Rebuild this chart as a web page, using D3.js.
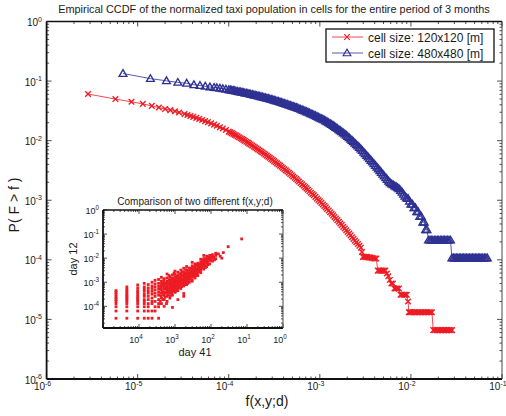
<!DOCTYPE html>
<html>
<head>
<meta charset="utf-8">
<script src="https://cdn.jsdelivr.net/npm/d3@7"></script>
<style>
body{margin:0;background:#fff;}
text{font-family:"Liberation Sans",Arial,sans-serif;fill:#1a1a1a;}
</style>
</head>
<body>
<div id="chart"></div>
<script>
// CCDF, cell size 120x120 : [f, P(F>f)]
var redCcdf=[[2.85e-6,0.0607],[5.7e-6,0.0499],[8.55e-6,0.0449],[1.14e-5,0.0414],[1.43e-5,0.0383],[1.71e-5,0.0360],[2.0e-5,0.0340],[2.28e-5,0.0325],[2.57e-5,0.0311],[2.85e-5,0.0297],
[3.27e-5,0.0280],[3.52e-5,0.0270],[3.79e-5,0.0260],[4.08e-5,0.0251],[4.4e-5,0.0241],[4.74e-5,0.0232],[5.1e-5,0.0222],[5.5e-5,0.0213],[5.9e-5,0.0205],[6.4e-5,0.0195],[6.9e-5,0.0186],[7.4e-5,0.0178],[8.0e-5,0.0168],[8.6e-5,0.0160],[9.3e-5,0.0151],
[1.0e-4,0.0142],[1.04e-4,0.0138],[1.08e-4,0.0134],[1.12e-4,0.0130],[1.16e-4,0.0126],[1.20e-4,0.0122],[1.25e-4,0.0118],[1.30e-4,0.0114],[1.35e-4,0.0110],[1.40e-4,0.01065],[1.45e-4,0.0103],[1.50e-4,0.00994],[1.56e-4,0.00959],[1.62e-4,0.00926],[1.68e-4,0.00893],[1.74e-4,0.00860],[1.81e-4,0.00828],[1.88e-4,0.00798],[1.95e-4,0.00768],[2.02e-4,0.00740],
[2.1e-4,0.00712],[2.18e-4,0.00685],[2.26e-4,0.00658],[2.34e-4,0.00633],[2.43e-4,0.00608],[2.52e-4,0.00584],[2.62e-4,0.00561],[2.72e-4,0.00538],[2.82e-4,0.00516],[2.93e-4,0.00494],[3.04e-4,0.00473],[3.15e-4,0.00453],[3.27e-4,0.00434],[3.39e-4,0.00416],[3.52e-4,0.00398],[3.65e-4,0.00381],[3.79e-4,0.00364],[3.93e-4,0.00348],[4.08e-4,0.00332],[4.24e-4,0.00317],[4.4e-4,0.00303],[4.57e-4,0.00289],[4.74e-4,0.00275],[4.92e-4,0.00262],
[5.1e-4,0.00250],[5.3e-4,0.00238],[5.5e-4,0.00227],[5.7e-4,0.00216],[5.9e-4,0.00206],[6.15e-4,0.00195],[6.4e-4,0.00185],[6.65e-4,0.00175],[6.9e-4,0.00166],[7.15e-4,0.00158],[7.4e-4,0.00150],[7.7e-4,0.00142],[8.0e-4,0.00134],[8.3e-4,0.00127],[8.6e-4,0.00121],[8.95e-4,0.00114],[9.3e-4,0.00107],[9.65e-4,0.00101],
[1.0e-3,9.57e-4],[1.04e-3,9.02e-4],[1.08e-3,8.50e-4],[1.12e-3,8.03e-4],[1.16e-3,7.59e-4],[1.20e-3,7.14e-4],[1.25e-3,6.71e-4],[1.30e-3,6.30e-4],[1.35e-3,5.92e-4],[1.40e-3,5.57e-4],[1.45e-3,5.25e-4],[1.50e-3,4.94e-4],[1.56e-3,4.64e-4],[1.62e-3,4.35e-4],[1.68e-3,4.08e-4],[1.74e-3,3.82e-4],[1.81e-3,3.58e-4],[1.88e-3,3.35e-4],[1.95e-3,3.14e-4],[2.02e-3,2.94e-4],
[2.1e-3,2.75e-4],[2.18e-3,2.57e-4],[2.26e-3,2.40e-4],[2.34e-3,2.25e-4],[2.43e-3,2.10e-4],[2.52e-3,1.97e-4],[2.62e-3,1.84e-4],[2.72e-3,1.72e-4],[2.82e-3,1.60e-4],[2.9e-3,1.35e-4],
[2.97e-3,1.12e-4],[3.08e-3,1.12e-4],[3.2e-3,1.12e-4],[3.32e-3,1.11e-4],[3.45e-3,1.10e-4],[3.58e-3,1.09e-4],[3.72e-3,1.08e-4],[3.87e-3,1.06e-4],[4.02e-3,1.05e-4],[4.17e-3,1.05e-4],
[4.33e-3,6.6e-5],[4.5e-3,6.6e-5],[4.68e-3,6.6e-5],[4.86e-3,6.6e-5],[5.05e-3,6.6e-5],[5.24e-3,6.6e-5],[5.44e-3,5.9e-5],[5.65e-3,5.3e-5],[5.87e-3,4.6e-5],[6.1e-3,4.0e-5],[6.34e-3,4.0e-5],
[6.6e-3,3.3e-5],[6.84e-3,3.3e-5],[7.1e-3,3.3e-5],[7.38e-3,3.3e-5],[7.7e-3,2.6e-5],[8.0e-3,2.6e-5],[8.4e-3,2.6e-5],[8.7e-3,2.6e-5],[9.0e-3,2.6e-5],[9.3e-3,2.0e-5],
[9.5e-3,1.32e-5],[9.75e-3,1.32e-5],[1.0e-2,1.32e-5],[1.04e-2,1.32e-5],[1.08e-2,1.32e-5],[1.12e-2,1.32e-5],[1.16e-2,1.32e-5],[1.21e-2,1.32e-5],[1.26e-2,1.32e-5],[1.31e-2,1.32e-5],[1.36e-2,1.32e-5],[1.41e-2,1.32e-5],[1.46e-2,1.32e-5],[1.52e-2,1.32e-5],[1.58e-2,1.32e-5],[1.64e-2,1.32e-5],[1.70e-2,1.32e-5],
[1.76e-2,6.6e-6],[1.84e-2,6.6e-6],[1.93e-2,6.6e-6],[2.0e-2,6.6e-6],[2.08e-2,6.6e-6],[2.16e-2,6.6e-6],[2.25e-2,6.6e-6],[2.34e-2,6.6e-6],[2.43e-2,6.6e-6],[2.52e-2,6.6e-6],[2.62e-2,6.6e-6],[2.72e-2,6.6e-6],[2.83e-2,6.6e-6]];

// CCDF, cell size 480x480 : [f, P(F>f)]
var blueCcdf=[[6.9e-6,0.134],[1.38e-5,0.110],[2.07e-5,0.101],[2.76e-5,0.0951],[3.45e-5,0.0916],[4.14e-5,0.0867],[4.83e-5,0.0842],[5.52e-5,0.0817],[6.21e-5,0.0796],[6.9e-5,0.0782],
[7.4e-5,0.0772],[8.0e-5,0.0757],[8.6e-5,0.0744],[9.3e-5,0.0729],
[1.0e-4,0.0715],[1.04e-4,0.0708],[1.08e-4,0.0700],[1.12e-4,0.0693],[1.16e-4,0.0686],[1.20e-4,0.0678],[1.25e-4,0.0670],[1.30e-4,0.0662],[1.35e-4,0.0655],[1.40e-4,0.0648],[1.45e-4,0.0640],[1.50e-4,0.0632],[1.56e-4,0.0625],[1.62e-4,0.0617],[1.68e-4,0.0610],[1.74e-4,0.0602],[1.81e-4,0.0594],[1.88e-4,0.0586],[1.95e-4,0.0578],[2.02e-4,0.0570],
[2.1e-4,0.0563],[2.18e-4,0.0555],[2.26e-4,0.0547],[2.34e-4,0.0540],[2.43e-4,0.0532],[2.52e-4,0.0524],[2.62e-4,0.0516],[2.72e-4,0.0508],[2.82e-4,0.0501],[2.93e-4,0.0493],[3.04e-4,0.0485],[3.15e-4,0.0477],[3.27e-4,0.0469],[3.39e-4,0.0461],[3.52e-4,0.0453],[3.65e-4,0.0445],[3.79e-4,0.0437],[3.93e-4,0.0430],[4.08e-4,0.0422],[4.24e-4,0.0414],[4.4e-4,0.0406],[4.57e-4,0.0398],[4.74e-4,0.0390],[4.92e-4,0.0382],
[5.1e-4,0.0375],[5.3e-4,0.0367],[5.5e-4,0.0359],[5.7e-4,0.0352],[5.9e-4,0.0345],[6.15e-4,0.0336],[6.4e-4,0.0328],[6.65e-4,0.0320],[6.9e-4,0.0313],[7.15e-4,0.0306],[7.4e-4,0.0299],[7.7e-4,0.0291],[8.0e-4,0.0283],[8.3e-4,0.0276],[8.6e-4,0.0270],[8.95e-4,0.0262],[9.3e-4,0.0255],[9.65e-4,0.0248],
[1.0e-3,0.0241],[1.04e-3,0.0234],[1.08e-3,0.0228],[1.12e-3,0.0221],[1.16e-3,0.0214],[1.20e-3,0.0207],[1.25e-3,0.0200],[1.30e-3,0.0193],[1.35e-3,0.0186],[1.40e-3,0.0179],[1.45e-3,0.0173],[1.50e-3,0.0166],[1.56e-3,0.0160],[1.62e-3,0.0153],[1.68e-3,0.0147],[1.74e-3,0.0141],[1.81e-3,0.0135],[1.88e-3,0.0129],[1.95e-3,0.0123],[2.02e-3,0.0117],
[2.1e-3,0.0112],[2.18e-3,0.0106],[2.26e-3,0.0101],[2.34e-3,0.00956],[2.43e-3,0.00906],[2.52e-3,0.00857],[2.62e-3,0.00811],[2.72e-3,0.00766],[2.82e-3,0.00723],[2.93e-3,0.00680],[3.04e-3,0.00639],[3.15e-3,0.00600],[3.27e-3,0.00564],[3.39e-3,0.00529],[3.52e-3,0.00496],[3.65e-3,0.00465],[3.79e-3,0.00436],[3.93e-3,0.00409],[4.08e-3,0.00383],[4.24e-3,0.00358],[4.4e-3,0.00335],[4.57e-3,0.00313],[4.74e-3,0.00292],[4.92e-3,0.00272],
[5.1e-3,0.00254],[5.3e-3,0.00238],[5.5e-3,0.00222],[5.7e-3,0.00209],[5.9e-3,0.00196],[6.15e-3,0.00188],[6.4e-3,0.00181],[6.65e-3,0.00174],[6.9e-3,0.00168],[7.15e-3,0.00162],[7.4e-3,0.00156],[7.7e-3,0.00146],[8.0e-3,0.00136],[8.3e-3,0.00126],[8.6e-3,0.00117],[8.95e-3,0.00109],[9.3e-3,0.00107],[9.65e-3,9.63e-4],
[1.0e-2,8.56e-4],[1.04e-2,8.56e-4],[1.08e-2,7.49e-4],[1.12e-2,7.49e-4],[1.16e-2,6.42e-4],[1.20e-2,6.42e-4],[1.25e-2,5.35e-4],[1.30e-2,5.35e-4],[1.35e-2,4.28e-4],[1.40e-2,4.28e-4],[1.45e-2,3.21e-4],[1.50e-2,3.21e-4],
[1.56e-2,2.14e-4],[1.62e-2,2.14e-4],[1.68e-2,2.14e-4],[1.74e-2,2.14e-4],[1.81e-2,2.14e-4],[1.88e-2,2.14e-4],[1.95e-2,2.14e-4],[2.02e-2,2.14e-4],[2.1e-2,2.14e-4],[2.18e-2,2.14e-4],[2.26e-2,2.14e-4],[2.34e-2,2.14e-4],[2.43e-2,2.14e-4],[2.52e-2,2.14e-4],[2.62e-2,2.14e-4],[2.72e-2,2.14e-4],
[2.82e-2,1.07e-4],[2.93e-2,1.07e-4],[3.04e-2,1.07e-4],[3.15e-2,1.07e-4],[3.27e-2,1.07e-4],[3.39e-2,1.07e-4],[3.52e-2,1.07e-4],[3.65e-2,1.07e-4],[3.79e-2,1.07e-4],[3.93e-2,1.07e-4],[4.08e-2,1.07e-4],[4.24e-2,1.07e-4],[4.4e-2,1.07e-4],[4.57e-2,1.07e-4],[4.74e-2,1.07e-4],[4.92e-2,1.07e-4],[5.1e-2,1.07e-4],[5.3e-2,1.07e-4],[5.5e-2,1.07e-4],[5.7e-2,1.07e-4],[5.9e-2,1.07e-4],[6.15e-2,1.07e-4],[6.4e-2,1.07e-4],[6.65e-2,1.07e-4],[6.9e-2,1.07e-4]];

// inset scatter: day 41 value (x) with the day 12 values (y) seen at it
var insetColumns=[
{x:2.3e-5,y:[3.2e-5,6.4e-5,9.6e-5,1.3e-4,1.6e-4,1.9e-4,2.2e-4,2.6e-4,3.2e-4,3.8e-4,4.5e-4]},
{x:4.6e-5,y:[3.2e-5,6.4e-5,9.6e-5,1.3e-4,1.6e-4,1.9e-4,2.2e-4,2.6e-4,2.9e-4,3.5e-4,4.2e-4,5.1e-4,6.4e-4]},
{x:9.2e-5,y:[3.2e-5,6.4e-5,9.6e-5,1.3e-4,1.6e-4,1.9e-4,2.2e-4,2.6e-4,3.2e-4,3.8e-4,4.5e-4,5.8e-4,7.7e-4]},
{x:1.4e-4,y:[3.2e-5,6.4e-5,9.6e-5,1.3e-4,1.6e-4,1.9e-4,2.6e-4,3.2e-4,4.2e-4,5.1e-4,6.4e-4,9.0e-4]},
{x:1.8e-4,y:[3.2e-5,6.4e-5,9.6e-5,1.3e-4,1.9e-4,2.6e-4,3.5e-4,4.5e-4,5.8e-4,8.0e-4]},
{x:2.3e-4,y:[3.2e-5,6.4e-5,1.3e-4,1.6e-4,2.2e-4,3.2e-4,4.2e-4,5.5e-4,7.0e-4,1.0e-3]},
{x:2.8e-4,y:[6.4e-5,9.6e-5,1.6e-4,2.6e-4,3.5e-4,4.8e-4,6.4e-4,8.5e-4,1.2e-3]},
{x:3.5e-4,y:[3.2e-5,9.6e-5,1.3e-4,1.9e-4,2.9e-4,3.8e-4,5.1e-4,6.7e-4,9.0e-4,1.3e-3]},
{x:4.2e-4,y:[1.3e-4,2.2e-4,3.5e-4,4.8e-4,6.1e-4,8.0e-4,1.1e-3,1.6e-3]},
{x:5.0e-4,y:[1.0e-4,1.9e-4,2.9e-4,4.0e-4,5.5e-4,7.4e-4,9.6e-4,1.4e-3]},
{x:6.0e-4,y:[1.6e-4,2.6e-4,3.8e-4,5.1e-4,6.7e-4,8.6e-4,1.1e-3,1.5e-3,2.2e-3]},
{x:7.2e-4,y:[2.2e-4,3.5e-4,4.5e-4,6.1e-4,7.7e-4,9.6e-4,1.2e-3,1.7e-3]},
{x:8.5e-4,y:[9.0e-5,2.9e-4,4.2e-4,5.8e-4,7.4e-4,9.3e-4,1.2e-3,1.5e-3,2.0e-3]},
{x:1.0e-3,y:[3.8e-4,5.1e-4,6.7e-4,8.3e-4,1.0e-3,1.3e-3,1.6e-3,2.1e-3,2.9e-3]},
{x:1.2e-3,y:[1.9e-4,4.5e-4,6.4e-4,8.0e-4,9.9e-4,1.2e-3,1.5e-3,1.9e-3,2.6e-3]},
{x:1.45e-3,y:[5.5e-4,7.7e-4,9.6e-4,1.2e-3,1.4e-3,1.8e-3,2.3e-3,3.2e-3]},
{x:1.75e-3,y:[2.6e-4,3.4e-4,7.0e-4,9.0e-4,1.1e-3,1.4e-3,1.7e-3,2.1e-3,2.7e-3,3.8e-3]},
{x:2.1e-3,y:[8.0e-4,1.1e-3,1.3e-3,1.6e-3,2.0e-3,2.5e-3,3.2e-3,4.5e-3]},
{x:2.5e-3,y:[1.0e-3,1.3e-3,1.6e-3,2.0e-3,2.4e-3,3.0e-3,3.9e-3]},
{x:3.0e-3,y:[1.2e-3,1.6e-3,2.0e-3,2.5e-3,3.0e-3,3.7e-3,4.8e-3,6.7e-3]},
{x:3.6e-3,y:[1.5e-3,2.0e-3,2.6e-3,3.2e-3,3.8e-3,4.6e-3,5.8e-3]},
{x:4.3e-3,y:[1.9e-3,2.6e-3,3.4e-3,4.2e-3,5.0e-3,6.2e-3]},
{x:5.2e-3,y:[2.5e-3,3.4e-3,4.4e-3,5.5e-3,7.0e-3,9.0e-3]},
{x:6.3e-3,y:[3.5e-3,4.6e-3,5.8e-3,7.3e-3,9.6e-3,1.3e-2]},
{x:7.6e-3,y:[4.5e-3,6.0e-3,7.8e-3,9.8e-3,1.2e-2]},
{x:9.2e-3,y:[5.8e-3,8.0e-3,1.0e-2,1.3e-2]},
{x:1.1e-2,y:[7.5e-3,1.0e-2,1.4e-2]},
{x:1.35e-2,y:[9.5e-3,1.3e-2,1.6e-2]}];
var insetCloud=[[3.9e-4,1.6e-4],[4.0e-4,6.0e-4],[4.1e-4,2.7e-4],[4.3e-4,9.0e-4],[4.4e-4,4.1e-4],[4.6e-4,1.9e-4],[4.7e-4,7.2e-4],[4.8e-4,3.1e-4],[4.9e-4,1.2e-3],[5.2e-4,5.3e-4],[5.3e-4,2.4e-4],[5.4e-4,8.8e-4],[5.6e-4,3.6e-4],[5.7e-4,6.5e-4],[5.8e-4,1.3e-4],
[6.1e-4,4.6e-4],[6.2e-4,1.0e-3],[6.3e-4,3.0e-4],[6.5e-4,7.8e-4],[6.6e-4,5.6e-4],[6.8e-4,1.9e-3],[6.9e-4,4.0e-4],[7.0e-4,1.3e-3],[7.3e-4,2.7e-4],[7.5e-4,6.9e-4],[7.6e-4,1.0e-3],[7.8e-4,5.0e-4],[8.0e-4,8.4e-4],[8.1e-4,3.6e-4],[8.3e-4,1.4e-3],
[8.7e-4,6.3e-4],[8.9e-4,1.1e-3],[9.0e-4,4.6e-4],[9.2e-4,7.9e-4],[9.4e-4,2.4e-3],[9.6e-4,5.7e-4],[9.8e-4,1.2e-3],[1.03e-3,9.1e-4],[1.05e-3,4.2e-4],[1.07e-3,1.5e-3],[1.09e-3,7.1e-4],[1.12e-3,1.1e-3],[1.14e-3,5.4e-4],[1.17e-3,1.8e-3],
[1.22e-3,8.6e-4],[1.25e-3,1.3e-3],[1.28e-3,6.0e-4],[1.31e-3,1.0e-3],[1.34e-3,2.2e-3],[1.38e-3,7.5e-4],[1.41e-3,1.6e-3],[1.48e-3,1.1e-3],[1.52e-3,6.6e-4],[1.55e-3,1.3e-3],[1.6e-3,2.7e-3],[1.63e-3,8.8e-4],[1.67e-3,1.9e-3],[1.71e-3,1.2e-3],
[1.8e-3,1.6e-3],[1.84e-3,8.0e-4],[1.88e-3,2.3e-3],[1.93e-3,1.0e-3],[1.97e-3,1.4e-3],[2.0e-3,3.3e-3],[2.05e-3,1.8e-3],[2.15e-3,1.2e-3],[2.2e-3,2.1e-3],[2.25e-3,9.0e-4],[2.3e-3,1.5e-3],[2.35e-3,2.8e-3],[2.4e-3,1.9e-3],
[2.6e-3,1.4e-3],[2.65e-3,2.2e-3],[2.7e-3,3.6e-3],[2.8e-3,1.7e-3],[2.85e-3,2.6e-3],[2.95e-3,1.1e-3],[3.1e-3,2.1e-3],[3.2e-3,3.2e-3],[3.3e-3,1.8e-3],[3.4e-3,4.2e-3],[3.45e-3,2.4e-3],[3.7e-3,2.9e-3],[3.8e-3,1.9e-3],[3.9e-3,3.5e-3],[4.0e-3,5.3e-3],[4.1e-3,2.3e-3],
[4.5e-3,3.0e-3],[4.6e-3,4.4e-3],[4.7e-3,3.6e-3],[4.9e-3,5.6e-3],[5.0e-3,2.8e-3],[5.5e-3,4.0e-3],[5.6e-3,6.2e-3],[5.8e-3,4.9e-3],[6.0e-3,8.0e-3],[6.6e-3,5.2e-3],[6.8e-3,6.6e-3],[7.0e-3,4.1e-3],[7.2e-3,8.5e-3],[8.0e-3,7.0e-3],[8.3e-3,5.4e-3],[8.6e-3,9.0e-3],[8.8e-3,1.1e-2],[1.0e-2,8.6e-3],[1.05e-2,1.2e-2],[1.2e-2,1.1e-2],[1.25e-2,8.5e-3]];
var insetOutliers=[[1.6e-2,1.5e-2],[1.8e-2,1.2e-2],[2.0e-2,1.0e-2],[2.2e-2,1.7e-2],[3.0e-2,3.0e-2],[7.1e-2,6.3e-2]];

// tick labels
var mainXExp=[-6,-5,-4,-3,-2,-1];
var mainYExp=[-6,-5,-4,-3,-2,-1,0];
var insetXExp=[-4,-3,-2,-1,0];
var insetXText=["4","3","2","1","0"];
var insetYExp=[-4,-3,-2,-1,0];
var legendLabels=["cell size: 120x120 [m]","cell size: 480x480 [m]"];

var width=506, height=416;
var redColor="#ed1c24", blueColor="#2e3192";

var svg=d3.select("#chart").append("svg")
  .attr("width",width)
  .attr("height",height);

var x=d3.scaleLog().domain([1e-6,1e-1]).range([46.6,502]);
var y=d3.scaleLog().domain([1e-6,1]).range([379,21.5]);

//ticks (inward, all four sides) and the box
function drawAxes(g,xs,ys,major,minor,thick){
  var xa=xs.range()[0], xb=xs.range()[1], ya=ys.range()[0], yb=ys.range()[1];
  function isMajor(t){var l=Math.log10(t);return Math.abs(l-Math.round(l))<1e-6;}
  xs.ticks().forEach(function(t){
    var L=isMajor(t)?major:minor;
    g.append("line").attr("x1",xs(t)).attr("x2",xs(t)).attr("y1",ya).attr("y2",ya-L);
    g.append("line").attr("x1",xs(t)).attr("x2",xs(t)).attr("y1",yb).attr("y2",yb+L);
  });
  ys.ticks().forEach(function(t){
    var L=isMajor(t)?major:minor;
    g.append("line").attr("x1",xa).attr("x2",xa+L).attr("y1",ys(t)).attr("y2",ys(t));
    g.append("line").attr("x1",xb).attr("x2",xb-L).attr("y1",ys(t)).attr("y2",ys(t));
  });
  g.selectAll("line").attr("stroke","#222").attr("stroke-width",0.8);
  g.append("line").attr("x1",xa).attr("x2",xa).attr("y1",ya).attr("y2",yb).attr("stroke","#111").attr("stroke-width",thick);
  g.append("line").attr("x1",xa).attr("x2",xb).attr("y1",ya).attr("y2",ya).attr("stroke","#111").attr("stroke-width",thick);
  g.append("line").attr("x1",xa).attr("x2",xb).attr("y1",yb).attr("y2",yb).attr("stroke","#111").attr("stroke-width",thick*0.8);
  g.append("line").attr("x1",xb).attr("x2",xb).attr("y1",ya).attr("y2",yb).attr("stroke","#333").attr("stroke-width",0.9);
}

function powLabel(g,px,py,expText,anchor,fs){
  var t=g.append("text").attr("x",px).attr("y",py)
    .attr("text-anchor",anchor).style("font-size",fs+"px");
  t.append("tspan").text("10");
  t.append("tspan").attr("dy",-fs*0.45).style("font-size",(fs*0.7)+"px").text(expText);
}

var gMain=svg.append("g");
drawAxes(gMain,x,y,5,2.5,1.8);

mainXExp.forEach(function(e){
  powLabel(svg,x(Math.pow(10,e))-4,390,String(e),"middle",10);
});
mainYExp.forEach(function(e){
  powLabel(svg,42,y(Math.pow(10,e))+4.5,String(e),"end",10);
});

//title and labels
svg.append("text").attr("x",274).attr("y",13).attr("text-anchor","middle")
  .style("font-size","10.9px").text("Empirical CCDF of the normalized taxi population in cells for the entire period of 3 months");
svg.append("text").attr("x",267).attr("y",406).attr("text-anchor","middle")
  .style("font-size","14px").text("f(x,y;d)");
svg.append("text").attr("transform","translate(19,205) rotate(-90)").attr("text-anchor","middle")
  .style("font-size","14px").text("P( F > f )");

var line=d3.line()
  .x(function(d){return x(d[0]);})
  .y(function(d){return y(d[1]);});

var crossPath="M-2.8,-2.8L2.8,2.8M-2.8,2.8L2.8,-2.8";
var triPath="M0,-3.9L3.9,2.8L-3.9,2.8Z";

svg.append("path").datum(redCcdf).attr("d",line)
  .attr("fill","none").attr("stroke",redColor).attr("stroke-width",0.8);
svg.selectAll(".redmark").data(redCcdf).enter().append("path")
  .attr("class","redmark")
  .attr("transform",function(d){return "translate("+x(d[0])+","+y(d[1])+")";})
  .attr("d",crossPath).attr("fill","none").attr("stroke",redColor).attr("stroke-width",1.4);

svg.append("path").datum(blueCcdf).attr("d",line)
  .attr("fill","none").attr("stroke",blueColor).attr("stroke-width",0.8);
svg.selectAll(".bluemark").data(blueCcdf).enter().append("path")
  .attr("class","bluemark")
  .attr("transform",function(d){return "translate("+x(d[0])+","+y(d[1])+")";})
  .attr("d",triPath).attr("fill","none").attr("stroke",blueColor).attr("stroke-width",1.35);

//legend
var lg=svg.append("g");
lg.append("rect").attr("x",326).attr("y",29).attr("width",168).attr("height",33)
  .attr("fill","white").attr("stroke","#111").attr("stroke-width",1.3);
var legendColors=[redColor,blueColor], legendMarks=[crossPath,triPath];
legendLabels.forEach(function(s,i){
  var ly=37+i*16;
  lg.append("line").attr("x1",332).attr("x2",363).attr("y1",ly).attr("y2",ly)
    .attr("stroke",legendColors[i]).attr("stroke-width",0.8);
  lg.append("path").attr("transform","translate(347,"+ly+")").attr("d",legendMarks[i])
    .attr("fill","none").attr("stroke",legendColors[i]).attr("stroke-width",1.1);
  lg.append("text").attr("x",368).attr("y",ly+4.5).style("font-size","12px").text(s);
});

//inset
var xi=d3.scaleLog().domain([1e-5,1]).range([103,283]);
var yi=d3.scaleLog().domain([Math.pow(10,-4.9),1]).range([328,210]);
var gIn=svg.append("g");
gIn.append("rect").attr("x",103).attr("y",210).attr("width",180).attr("height",118).attr("fill","white");
var gInAx=gIn.append("g");
drawAxes(gInAx,xi,yi,4,2,1.8);

var insetPoints=[];
insetColumns.forEach(function(c){
  c.y.forEach(function(v){insetPoints.push([c.x,v]);});
});
insetCloud.forEach(function(p){insetPoints.push(p);});
insetOutliers.forEach(function(p){insetPoints.push(p);});

gIn.selectAll(".dot").data(insetPoints).enter().append("rect")
  .attr("class","dot")
  .attr("x",function(d){return xi(d[0])-1.4;})
  .attr("y",function(d){return yi(d[1])-1.4;})
  .attr("width",2.8).attr("height",2.8)
  .attr("fill",redColor);

insetXExp.forEach(function(e,i){
  powLabel(gIn,xi(Math.pow(10,e))-3,343,insetXText[i],"middle",9);
});
insetYExp.forEach(function(e){
  powLabel(gIn,99,yi(Math.pow(10,e))+4,String(e),"end",9);
});
gIn.append("text").attr("x",195).attr("y",204.5).attr("text-anchor","middle")
  .style("font-size","10px").text("Comparison of two different f(x,y;d)");
gIn.append("text").attr("x",195).attr("y",356).attr("text-anchor","middle")
  .style("font-size","11px").text("day 41");
gIn.append("text").attr("transform","translate(77,259) rotate(-90)").attr("text-anchor","middle")
  .style("font-size","11px").text("day 12");
</script>
</body>
</html>
